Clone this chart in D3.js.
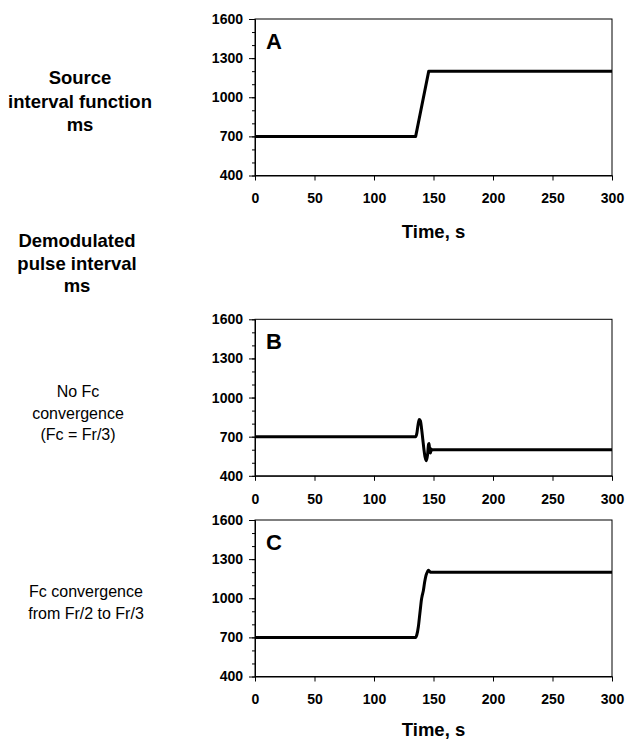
<!DOCTYPE html>
<html>
<head>
<meta charset="utf-8">
<script src="https://cdn.jsdelivr.net/npm/d3@7"></script>
<style>
  body { margin: 0; background: #fff; }
  svg { display: block; font-family: "Liberation Sans", Arial, sans-serif; }
  .axis text { font-size: 14px; font-weight: bold; fill: #000; }
  .axis path, .axis line { stroke: #000; }
</style>
</head>
<body>
<div id="chart"></div>
<script>
// time (s) / interval (ms) pairs
var sourceTime  = [0, 135, 146, 300];
var sourceValue = [700, 700, 1200, 1200];

var noConvTime  = [0, 135, 136, 137, 138, 139, 140, 141, 142, 143, 144, 145, 145.8, 146.3, 146.8, 147.4, 148, 149, 150, 300];
var noConvValue = [700, 700, 725, 790, 832, 822, 760, 680, 600, 540, 515, 560, 640, 648, 590, 575, 605, 598, 600, 600];

var convTime  = [0, 135, 136, 137.3, 138.5, 139.2, 139.8, 140.5, 141.5, 142.5, 143.7, 145, 145.7, 146.5, 147.2, 300];
var convValue = [700, 700, 720, 783, 880, 937, 985, 1020, 1060, 1120, 1175, 1205, 1215, 1208, 1200, 1200];

var xTicks = [0, 50, 100, 150, 200, 250, 300];
var yMajorTicks = [400, 700, 1000, 1300, 1600];
var yMinorTicks = [400, 500, 600, 700, 800, 900, 1000, 1100, 1200, 1300, 1400, 1500, 1600];

var width = 627, height = 742;
var plotLeft = 255, plotRight = 612, plotHeight = 156.5;

var svg = d3.select('#chart')
	.append('svg')
	.attr('width', width)
	.attr('height', height);

var xScale = d3.scaleLinear()
	.domain([0, 300])
	.range([plotLeft, plotRight]);

function drawPanel(top, letter, times, values, curve) {
	var yScale = d3.scaleLinear()
		.domain([400, 1600])
		.range([top + plotHeight, top]);

	var g = svg.append('g').attr('class', 'panel');

	// minor ticks on y
	g.append('g')
		.attr('class', 'axis')
		.attr('transform', 'translate(' + plotLeft + ',0)')
		.call(d3.axisLeft(yScale).tickValues(yMinorTicks).tickSize(3).tickSizeOuter(0).tickFormat(''));

	// labelled ticks on y
	g.append('g')
		.attr('class', 'axis')
		.attr('transform', 'translate(' + plotLeft + ',0)')
		.call(d3.axisLeft(yScale).tickValues(yMajorTicks).tickSize(6).tickSizeOuter(0).tickPadding(6).tickFormat(d3.format('d')));

	g.append('g')
		.attr('class', 'axis')
		.attr('transform', 'translate(0,' + (top + plotHeight) + ')')
		.call(d3.axisBottom(xScale).tickValues(xTicks).tickSize(5).tickSizeOuter(0).tickPadding(13));

	// box round the plot
	g.append('rect')
		.attr('x', plotLeft)
		.attr('y', top)
		.attr('width', plotRight - plotLeft)
		.attr('height', plotHeight)
		.attr('fill', 'none')
		.attr('stroke', '#000')
		.attr('stroke-width', 1);

	var pts = times.map(function (t, i) { return [t, values[i]]; });

	var line = d3.line()
		.x(function (d) { return xScale(d[0]); })
		.y(function (d) { return yScale(d[1]); })
		.curve(curve);

	g.append('path')
		.datum(pts)
		.attr('d', line)
		.attr('fill', 'none')
		.attr('stroke', '#000')
		.attr('stroke-width', 3)
		.attr('stroke-linejoin', 'round');

	g.append('text')
		.attr('x', plotLeft + 11)
		.attr('y', top + 30)
		.attr('font-size', 22)
		.attr('font-weight', 'bold')
		.text(letter);
}

drawPanel(19, 'A', sourceTime, sourceValue, d3.curveLinear);
drawPanel(319.3, 'B', noConvTime, noConvValue, d3.curveMonotoneX);
drawPanel(520, 'C', convTime, convValue, d3.curveMonotoneX);

function textBlock(cx, y0, lines, bold, size, step) {
	svg.append('g').selectAll('text')
		.data(lines)
		.enter().append('text')
		.attr('x', cx)
		.attr('y', function (d, i) { return y0 + i * step; })
		.attr('text-anchor', 'middle')
		.attr('font-size', size)
		.attr('font-weight', bold ? 'bold' : 'normal')
		.text(function (d) { return d; });
}

textBlock(80, 84, ['Source', 'interval function', 'ms'], true, 18.5, 23.5);
textBlock(77, 247, ['Demodulated', 'pulse interval', 'ms'], true, 18.5, 22.5);
textBlock(78, 397, ['No Fc', 'convergence', '(Fc = Fr/3)'], false, 16, 21.5);
textBlock(86, 597, ['Fc convergence', 'from Fr/2 to Fr/3'], false, 16, 21.5);

// x axis titles
svg.append('text')
	.attr('x', (plotLeft + plotRight) / 2)
	.attr('y', 238)
	.attr('text-anchor', 'middle')
	.attr('font-size', 18.5)
	.attr('font-weight', 'bold')
	.text('Time, s');

svg.append('text')
	.attr('x', (plotLeft + plotRight) / 2)
	.attr('y', 736)
	.attr('text-anchor', 'middle')
	.attr('font-size', 18.5)
	.attr('font-weight', 'bold')
	.text('Time, s');
</script>
</body>
</html>
